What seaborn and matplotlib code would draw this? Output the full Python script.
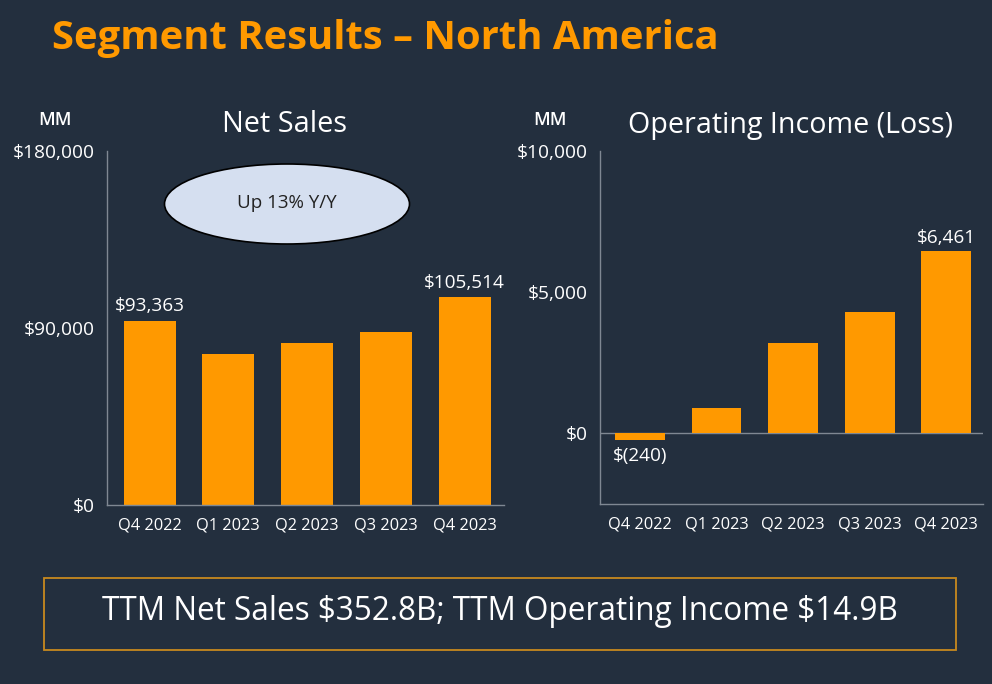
import matplotlib
matplotlib.use("Agg")
import matplotlib.pyplot as plt
from matplotlib.patches import Ellipse, Rectangle
import seaborn as sns
import pandas as pd

quarters = ["Q4 2022", "Q1 2023", "Q2 2023", "Q3 2023", "Q4 2023"]
net_sales = [93363, 76881, 82546, 87887, 105514]
op_income = [-240, 898, 3211, 4307, 6461]
sales_ticks = [0, 90000, 180000]
sales_tick_labels = ["$0", "$90,000", "$180,000"]
op_ticks = [0, 5000, 10000]
op_tick_labels = ["$0", "$5,000", "$10,000"]

BG = "#232F3E"
ORANGE = "#FF9900"
GRID = "#7F8893"
WHITE = "#FFFFFF"

sns.set_style("dark")
plt.rcParams["font.family"] = ["Open Sans", "DejaVu Sans"]
plt.rcParams["text.parse_math"] = False

fig = plt.figure(figsize=(9.92, 6.84), dpi=100, facecolor=BG)

df_s = pd.DataFrame({"q": quarters, "v": net_sales})
df_o = pd.DataFrame({"q": quarters, "v": op_income})

ax1 = fig.add_axes([107/992, 1-505/684, 397/992, 354/684])
ax2 = fig.add_axes([600/992, 1-504/684, 383/992, 353/684])

sns.barplot(data=df_s, x="q", y="v", color=ORANGE, width=0.66, saturation=1,
            linewidth=0, edgecolor=ORANGE, ax=ax1)
sns.barplot(data=df_o, x="q", y="v", color=ORANGE, width=0.65, saturation=1,
            linewidth=0, edgecolor=ORANGE, ax=ax2)

for ax in (ax1, ax2):
    ax.set_facecolor(BG)
    ax.grid(False)
    ax.set_xlabel("")
    ax.set_ylabel("")
    for s in ("top", "right"):
        ax.spines[s].set_visible(False)
    for s in ("left", "bottom"):
        ax.spines[s].set_visible(True)
        ax.spines[s].set_color(GRID)
        ax.spines[s].set_linewidth(1.0)
    ax.tick_params(axis="both", colors=GRID, length=5, width=1, labelcolor=WHITE)
    ax.tick_params(axis="x", labelsize=11.8, pad=4)
    ax.tick_params(axis="y", labelsize=13.8, pad=4)
    for t in ax.get_xticklabels() + ax.get_yticklabels():
        t.set_fontweight("medium")

ax1.set_xlim(-0.54, 4.5)
ax1.set_ylim(0, 180000)
ax1.set_yticks(sales_ticks)
ax1.set_yticklabels(sales_tick_labels, fontweight="medium")

ax2.set_xlim(-0.52, 4.48)
ax2.set_ylim(-2500, 10000)
ax2.set_yticks(op_ticks)
ax2.set_yticklabels(op_tick_labels, fontweight="medium")
ax2.axhline(0, color=GRID, lw=1.0, zorder=0.5)

# data labels
lbl = dict(color=WHITE, ha="center", fontsize=13.7, fontweight="medium")
ax1.text(0, net_sales[0] + 3000, "$93,363", va="bottom", **lbl)
ax1.text(4, net_sales[4] + 3000, "$105,514", va="bottom", **lbl)
ax2.text(4, op_income[4] + 150, "$6,461", va="bottom", **lbl)
ax2.text(0, op_income[0] - 250, "$(240)", va="top", **lbl)

# panel titles
fig.text(284/992, 1-125/684, "Net Sales", color=WHITE, ha="center", va="center", fontsize=20.8)
fig.text(790/992, 1-125/684, "Operating Income (Loss)", color=WHITE, ha="center", va="center", fontsize=20.6)
fig.text(55/992, 1-120/684, "MM", color=WHITE, ha="center", va="center", fontsize=13, fontweight="semibold")
fig.text(550/992, 1-120/684, "MM", color=WHITE, ha="center", va="center", fontsize=13, fontweight="semibold")

# title
fig.text(52/992, 1-38/684, "Segment Results \u2013 North America", color=ORANGE,
         ha="left", va="center", fontsize=28.8, fontweight="bold")

# ellipse callout
ell = Ellipse((287/992, 1-204/684), 245/992, 80/684, transform=fig.transFigure,
              facecolor="#D5DFF0", edgecolor="black", lw=1.2)
fig.patches.append(ell)
fig.text(287/992, 1-203/684, "Up 13% Y/Y", color="#222222", ha="center", va="center", fontsize=13.5)

# bottom box
box = Rectangle((44/992, 1-650/684), 912/992, 72/684, transform=fig.transFigure,
                facecolor="none", edgecolor="#C8891E", lw=1.3)
fig.patches.append(box)
fig.text(500/992, 1-612/684, "TTM Net Sales $352.8B; TTM Operating Income $14.9B",
         color=WHITE, ha="center", va="center", fontsize=22.7)

fig.savefig("out.png", dpi=100, facecolor=BG)
